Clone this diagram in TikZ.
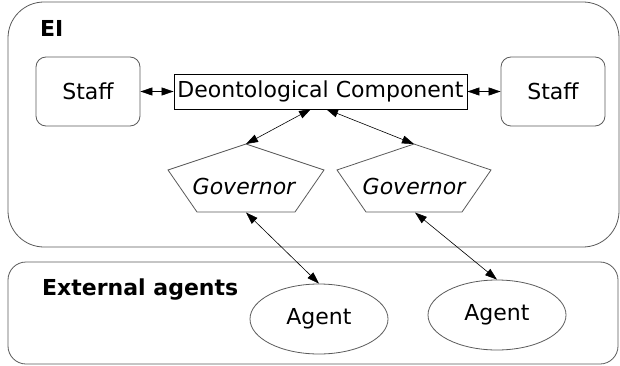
\documentclass[tikz,border=0pt]{standalone}
\usepackage{fontspec}
\setmainfont{DejaVu Sans}
\usetikzlibrary{arrows.meta,shapes.geometric}
\definecolor{shapec}{HTML}{5A5A5A}
\begin{document}
\begin{tikzpicture}[x=1pt,y=-1pt,
  txt/.style={font=\fontsize{22}{25}\selectfont},
  lbl/.style={font=\fontsize{22}{25}\selectfont\bfseries, anchor=base west, inner sep=0pt},
  group/.style={draw=shapec, line width=0.8pt},
  staffbox/.style={txt, draw=shapec, line width=0.8pt, rounded corners=10pt, minimum width=104pt, minimum height=69pt, inner sep=0pt},
  deonbox/.style={txt, draw=black, line width=0.8pt, minimum width=293pt, minimum height=35pt, inner sep=0pt},
  pent/.style={draw=shapec, line width=0.8pt},
  govtext/.style={font=\fontsize{22}{25}\selectfont\itshape, inner sep=0pt},
  agentnode/.style={txt, draw=shapec, line width=0.8pt, ellipse, minimum width=138pt, minimum height=70pt, inner sep=0pt},
  link/.style={{Triangle[length=12pt,width=8pt]}-{Triangle[length=12pt,width=8pt]}, line width=0.6pt, black}
]
\useasboundingbox (0,0) rectangle (620,366);
% groups
\draw[group, rounded corners=36pt] (8,2) rectangle (619,247);
\draw[group, rounded corners=18pt] (8,262) rectangle (618,364);
\node[lbl] (ei) at (40,37) {EI};
\node[lbl] (ext) at (42,295) {External agents};
% top row
\node[staffbox] (sl) at (88,91.5) {Staff};
\node[deonbox] (deon) at (320.5,91.5) {Deontological Component};
\node[staffbox] (sr) at (553,91.5) {Staff};
% governors
\draw[pent] (246,144) -- (324,170) -- (295,212) -- (197,212) -- (168,170) -- cycle;
\draw[pent] (414,144) -- (491,170) -- (462,212) -- (366,212) -- (337,170) -- cycle;
\node[govtext] (g1) at (244,186) {Governor};
\node[govtext] (g2) at (414,186) {Governor};
\coordinate (g1top) at (246,144);
\coordinate (g2top) at (414,144);
\coordinate (g1bot) at (246,212.5);
\coordinate (g2bot) at (415,212.5);
\coordinate (d1) at (311,109);
\coordinate (d2) at (326,109);
% agents
\node[agentnode] (a1) at (319,319) {Agent};
\node[agentnode] (a2) at (497,315) {Agent};
% connectors
\draw[link] (sl.east) -- (deon.west);
\draw[link] (deon.east) -- (sr.west);
\draw[link] (d1) -- (g1top);
\draw[link] (d2) -- (g2top);
\draw[link] (g1bot) -- (a1.north);
\draw[link] (g2bot) -- (a2.north);
\end{tikzpicture}
\end{document}
